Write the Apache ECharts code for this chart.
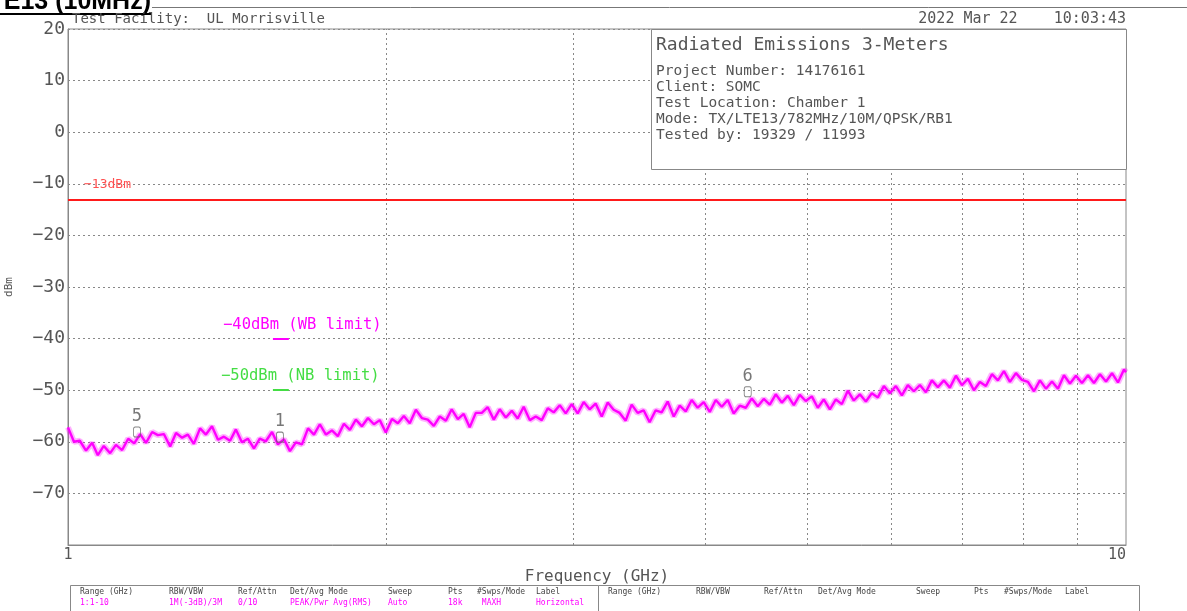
<!DOCTYPE html>
<html>
<head>
<meta charset="utf-8">
<script src="https://cdn.jsdelivr.net/npm/echarts@6/dist/echarts.min.js"></script>
<style>
html,body{margin:0;padding:0;background:#fff;}
#chart{width:1187px;height:611px;}
</style>
</head>
<body>
<div id="chart"></div>
<script>
// ---- data ----
const yTicks = [20, 10, 0, -10, -20, -30, -40, -50, -60, -70];
const xGridFreqs = [2, 3, 4, 5, 6, 7, 8, 9];           // GHz, dotted verticals
const limitMain = -13;                                  // dBm red limit
const wbLimit = -40, nbLimit = -50;                     // dBm
const wbSegment = [1.562, 1.617];                       // GHz span of the small limit ticks
const markerNames = ['5', '1', '6'];
const markerFreqs = [1.162, 1.586, 4.39];
const markerLevels = [-58.1, -59.1, -50.3];
// [frequency GHz, level dBm]
const trace = [
[1.000,-57.2],[1.013,-60.0],[1.026,-59.8],[1.040,-61.7],[1.054,-60.2],[1.067,-62.6],[1.081,-60.8],[1.096,-62.2],
[1.110,-60.6],[1.125,-61.6],[1.140,-59.4],[1.155,-60.3],[1.170,-58.5],[1.185,-60.2],[1.201,-58.1],[1.216,-58.7],
[1.232,-58.5],[1.249,-60.9],[1.265,-58.3],[1.282,-59.2],[1.298,-58.6],[1.315,-60.4],[1.333,-57.4],[1.350,-58.6],
[1.368,-57.0],[1.386,-59.6],[1.404,-59.0],[1.423,-59.8],[1.441,-57.6],[1.460,-60.1],[1.479,-59.4],[1.499,-61.3],
[1.518,-59.4],[1.538,-59.9],[1.559,-58.1],[1.579,-60.5],[1.600,-59.5],[1.621,-61.8],[1.642,-60.1],[1.664,-60.5],
[1.686,-57.4],[1.708,-58.6],[1.730,-56.6],[1.753,-58.6],[1.776,-57.8],[1.799,-58.9],[1.823,-56.5],[1.847,-57.7],
[1.871,-55.7],[1.896,-57.0],[1.921,-55.4],[1.946,-56.6],[1.971,-55.8],[1.997,-58.2],[2.024,-55.6],[2.050,-56.4],
[2.077,-55.0],[2.104,-56.4],[2.132,-53.8],[2.160,-55.4],[2.188,-55.7],[2.217,-56.9],[2.246,-55.1],[2.276,-55.9],
[2.305,-53.7],[2.336,-55.6],[2.366,-54.6],[2.397,-57.2],[2.429,-54.4],[2.461,-54.4],[2.493,-53.3],[2.526,-55.7],
[2.559,-53.7],[2.593,-55.3],[2.627,-54.0],[2.661,-55.5],[2.696,-53.2],[2.732,-55.8],[2.768,-55.1],[2.804,-55.8],
[2.841,-53.5],[2.878,-54.3],[2.916,-52.9],[2.954,-54.5],[2.993,-52.7],[3.032,-54.5],[3.072,-52.3],[3.112,-53.7],
[3.153,-52.6],[3.195,-55.1],[3.237,-52.4],[3.279,-53.8],[3.322,-54.4],[3.366,-55.9],[3.410,-52.8],[3.455,-54.4],
[3.500,-53.9],[3.546,-56.2],[3.593,-53.9],[3.640,-54.3],[3.688,-52.2],[3.737,-55.1],[3.786,-53.0],[3.836,-54.1],
[3.886,-51.9],[3.937,-53.4],[3.989,-52.3],[4.042,-54.2],[4.095,-51.9],[4.149,-53.2],[4.203,-51.9],[4.258,-54.5],
[4.314,-53.0],[4.371,-53.4],[4.429,-51.6],[4.487,-53.1],[4.546,-51.7],[4.606,-52.8],[4.666,-50.8],[4.728,-52.4],
[4.790,-51.1],[4.853,-52.9],[4.917,-50.9],[4.981,-52.1],[5.047,-51.2],[5.113,-53.4],[5.180,-51.8],[5.249,-53.7],
[5.318,-51.8],[5.388,-52.7],[5.458,-50.1],[5.530,-52.0],[5.603,-50.8],[5.677,-52.2],[5.751,-50.6],[5.827,-51.4],
[5.904,-49.2],[5.981,-50.6],[6.060,-49.2],[6.140,-51.0],[6.220,-49.0],[6.302,-50.2],[6.385,-49.0],[6.469,-50.4],
[6.554,-48.1],[6.640,-49.4],[6.728,-48.1],[6.816,-49.5],[6.906,-47.2],[6.997,-49.0],[7.089,-47.8],[7.182,-50.0],
[7.276,-48.4],[7.372,-49.2],[7.469,-46.9],[7.567,-48.1],[7.667,-46.3],[7.768,-48.4],[7.870,-46.7],[7.973,-48.0],
[8.078,-48.4],[8.185,-50.2],[8.292,-48.1],[8.401,-49.7],[8.512,-48.3],[8.624,-49.7],[8.737,-47.1],[8.852,-48.7],
[8.968,-47.2],[9.086,-48.6],[9.206,-47.1],[9.327,-48.6],[9.449,-46.9],[9.574,-48.3],[9.700,-46.7],[9.827,-48.5],
[9.956,-46.0],[10.0,-46.5]
];
const headerLeft = 'Test Facility:  UL Morrisville';
const headerRight = '2022 Mar 22    10:03:43';
const infoTitle = 'Radiated Emissions 3-Meters';
const infoLines = ['Project Number: 14176161', 'Client: SOMC', 'Test Location: Chamber 1',
  'Mode: TX/LTE13/782MHz/10M/QPSK/RB1', 'Tested by: 19329 / 11993'];
const tableHeads = ['Range (GHz)', 'RBW/VBW', 'Ref/Attn', 'Det/Avg Mode', 'Sweep', 'Pts', '#Swps/Mode', 'Label'];
const tableValues = ['1:1-10', '1M(-3dB)/3M', '0/10', 'PEAK/Pwr Avg(RMS)', 'Auto', '18k', ' MAXH', 'Horizontal'];

// ---- styling / layout ----
const MONO = '"DejaVu Sans Mono", "Liberation Mono", monospace';
const MAG = '#ff00ff', GREEN = '#44dd44', RED = '#ff1a1a', TXT = '#555';
const leftCols = [80, 169, 238, 290, 388, 448, 477, 536];
const rightCols = [608, 696, 764, 818, 916, 974, 1004, 1065];

const chart = echarts.init(document.getElementById('chart'), null, {renderer: 'canvas'});

const graphics = [
  {type: 'text', right: 1187 - 151, top: -10, z: 50,
   style: {text: 'Band LTE13 (10MHz)', font: 'bold 25px "Liberation Sans", Arial, sans-serif', fill: '#000'}},
  {type: 'rect', shape: {x: 0, y: 13, width: 151, height: 2}, style: {fill: '#000'}, z: 50},
  {type: 'line', shape: {x1: 152, y1: 7.5, x2: 1187, y2: 7.5}, style: {stroke: '#777', lineWidth: 1}, z: 50},
  {type: 'text', x: 72, y: 19, z: 50,
   style: {text: headerLeft, font: '14px ' + MONO, fill: TXT, textVerticalAlign: 'middle'}},
  {type: 'text', x: 1126, y: 19, z: 50,
   style: {text: headerRight, font: '15px ' + MONO, fill: TXT, textAlign: 'right', textVerticalAlign: 'middle'}},
  // info box
  {type: 'rect', shape: {x: 651.5, y: 29.5, width: 475, height: 140}, style: {fill: '#fff', stroke: '#888', lineWidth: 1}, z: 40},
  {type: 'text', x: 656, y: 45, z: 50,
   style: {text: infoTitle, font: '18px ' + MONO, fill: TXT, textVerticalAlign: 'middle'}},
  // limit labels
  {type: 'text', x: 84, y: 185, z: 50,
   style: {text: '\u221213dBm', font: '13px ' + MONO, fill: '#ff5050', textVerticalAlign: 'middle'}},
  {type: 'text', x: 223, y: 325, z: 50,
   style: {text: '\u221240dBm (WB limit)', font: '15.5px ' + MONO, fill: MAG, textVerticalAlign: 'middle'}},
  {type: 'text', x: 221, y: 376, z: 50,
   style: {text: '\u221250dBm (NB limit)', font: '15.5px ' + MONO, fill: GREEN, textVerticalAlign: 'middle'}},
  // bottom tables
  {type: 'rect', shape: {x: 70.5, y: 585.5, width: 528, height: 40}, style: {fill: '#fff', stroke: '#888', lineWidth: 1}, z: 40},
  {type: 'rect', shape: {x: 598.5, y: 585.5, width: 541, height: 40}, style: {fill: '#fff', stroke: '#888', lineWidth: 1}, z: 40}
];
infoLines.forEach((t, i) => graphics.push({type: 'text', x: 656, y: 71 + i * 16, z: 50,
  style: {text: t, font: '14.5px ' + MONO, fill: TXT, textVerticalAlign: 'middle'}}));
tableHeads.forEach((t, i) => {
  graphics.push({type: 'text', x: leftCols[i], y: 592, z: 50,
    style: {text: t, font: '8px ' + MONO, fill: '#444', textVerticalAlign: 'middle'}});
  graphics.push({type: 'text', x: rightCols[i], y: 592, z: 50,
    style: {text: t, font: '8px ' + MONO, fill: '#444', textVerticalAlign: 'middle'}});
  graphics.push({type: 'text', x: leftCols[i], y: 603, z: 50,
    style: {text: tableValues[i], font: '8px ' + MONO, fill: MAG, textVerticalAlign: 'middle'}});
});

const gridLines = xGridFreqs.map(f => ({xAxis: f,
  lineStyle: {color: '#888', type: [2, 3], width: 1}}));

const option = {
  animation: false,
  backgroundColor: '#fff',
  textStyle: {fontFamily: MONO},
  grid: {left: 68, right: 61, top: 29, bottom: 66, show: true, borderColor: '#888', borderWidth: 1,
    containLabel: false, outerBoundsMode: 'none'},
  xAxis: {
    type: 'log', logBase: 10, min: 1, max: 10,
    name: 'Frequency (GHz)', nameLocation: 'middle', nameGap: 24,
    nameTextStyle: {fontSize: 16, color: TXT, fontFamily: MONO},
    axisLine: {show: true, onZero: false, lineStyle: {color: '#888'}},
    axisTick: {show: false},
    splitLine: {show: false},
    axisLabel: {fontSize: 15, color: TXT, fontFamily: MONO, margin: 3,
      alignMaxLabel: 'right', alignMinLabel: 'center'}
  },
  yAxis: {
    type: 'value', min: -80, max: 20, interval: 10,
    name: 'dBm', nameLocation: 'middle', nameGap: 53, nameRotate: 90,
    nameTextStyle: {fontSize: 11, color: TXT, fontFamily: MONO},
    axisLine: {show: true, lineStyle: {color: '#888'}},
    axisTick: {show: false},
    splitLine: {show: true, lineStyle: {color: '#888', type: [2, 3], width: 1}},
    axisLabel: {fontSize: 18, color: TXT, fontFamily: MONO, margin: 3,
      formatter: v => (yTicks.indexOf(v) < 0 ? '' : String(v).replace('-', '\u2212'))}
  },
  series: [
    {
      type: 'line', name: 'trace-halo', data: trace, showSymbol: false, symbol: 'none',
      lineStyle: {color: MAG, width: 6, opacity: 0.3}, z: 4, silent: true
    },
    {
      type: 'line', name: 'trace', data: trace, showSymbol: false, symbol: 'none',
      lineStyle: {color: MAG, width: 2.4}, z: 5, silent: true,
      markLine: {
        silent: true, symbol: 'none', animation: false, label: {show: false},
        data: gridLines.concat([
          {yAxis: limitMain, lineStyle: {color: RED, width: 2, type: 'solid'}},
          [{coord: [wbSegment[0], wbLimit], lineStyle: {color: MAG, width: 2, type: 'solid'}},
           {coord: [wbSegment[1], wbLimit]}],
          [{coord: [wbSegment[0], nbLimit], lineStyle: {color: GREEN, width: 2, type: 'solid'}},
           {coord: [wbSegment[1], nbLimit]}]
        ])
      }
    },
    {
      type: 'scatter', name: 'markers', z: 6, silent: true,
      data: markerFreqs.map((f, i) => ({value: [f, markerLevels[i]], name: markerNames[i]})),
      symbol: 'roundRect', symbolSize: [7, 10],
      itemStyle: {color: 'rgba(255,255,255,0)', borderColor: '#666', borderWidth: 1},
      label: {show: true, position: 'top', distance: 1, formatter: p => p.name,
        fontSize: 17, color: TXT, fontFamily: MONO}
    }
  ],
  graphic: graphics
};
chart.setOption(option);
</script>
</body>
</html>
